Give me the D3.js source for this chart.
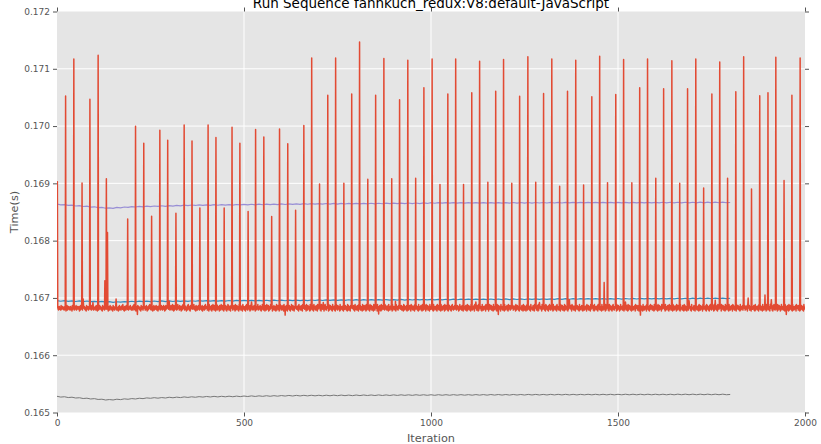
<!DOCTYPE html>
<html>
<head>
<meta charset="utf-8">
<script src="https://cdn.jsdelivr.net/npm/d3@7"></script>
<style>
  html, body { margin: 0; padding: 0; background: #ffffff; }
  svg { display: block; font-family: "DejaVu Sans", sans-serif; }
</style>
</head>
<body>
<svg id="chart" width="821" height="444"></svg>
<script>
// ---------------- DATA ----------------
const title = "Run Sequence fannkuch_redux:V8:default-JavaScript";
const xLabel = "Iteration";
const yLabel = "Time(s)";
const xTicks = [0, 500, 1000, 1500, 2000];
const yTicks = [0.165, 0.166, 0.167, 0.168, 0.169, 0.170, 0.171, 0.172];

// Red series, baseline noise: one digit per iteration (0..1999),
// value = redBaseOrigin + digit * redBaseUnit
const redBaseDigits = [
  "5464357465 3846574563 5746254836 5745637465 2847563746 5836475647 2638475637 4857463528 4756374856 4738465736",
  "4657384625 7364857463 5284657364 8574635274 6385746352 8476354768 3546273845 6375849635 2746385746 5364758463",
  "6473859463 5274638576 4635284756 3748563748 5263748596 4738562748 3657486357 2648573648 5736485726 3847563847",
  "5637485639 4728364758 3649576384 5726384957 6384752638 4957362845 7364859463 7285637485 6394756382 4756384957",
  "5738462947 5638274956 3847265938 4756284739 5648372946 5837264958 3746285947 3658472936 4857362948 5736482957",
  "4637285946 3758462837 5946374856 2837465937 4658372649 5837462857 3946582736 4958372645 8365724936 5847263958",
  "6374852937 4658372946 5837264957 3846275938 4657382946 5738462957 3648572946 3857462938 5746382957 4638572946",
  "5847362958 4736285947 3658472936 5847362957 4638275946 3857462937 5746382946 4857362958 3746285937 5648372946",
  "4738562947 5836472958 3748562937 4658372946 5837462958 3746582947 4658372936 5847263958 4736582947 3658472936",
  "5746382957 4638572946 5837462938 4756382947 3658472958 4736582946 5847362937 4658372958 3746582946 5837462947",
  "4658372936 5746382958 4837562947 3658472936 5847362958 4736285947 3658472936 5847263957 4638572946 5738462938",
  "4857362947 3746582958 5638472936 4857362947 3746582958 4637285946 5837462937 4658372958 3847562946 5736482937",
  "4658372946 5837462958 3746582937 4857362946 5638472958 3746285937 4857362946 5638472958 4736582937 3857462946",
  "5746382958 4637285947 3858472936 5746382957 4638572946 5837462938 4756382947 3658472958 4736582946 5847362937",
  "4658372958 3746582946 5837462947 4658372936 5746382958 4837562947 3658472936 5847362958 4736285947 3658472936",
  "5847263957 4638572946 5738462938 4857362947 3746582958 5638472936 4857362947 3746582958 4637285946 5837462937",
  "4658372958 3847562946 5736482937 4658372946 5837462958 3746582937 4857362946 5638472958 3746285937 4857362946",
  "5638472958 4736582937 3857462946 5746382958 4637285947 3858472936 5746382957 4638572946 5837462938 4756382947",
  "3658472958 4736582946 5847362937 4658372958 3746582946 5837462947 4658372936 5746382958 4837562947 3658472936",
  "5847362958 4736285947 3658472936 5847263957 4638572946 5738462938 4857362947 3746582958 5638472936 4857362947"
];
const redBaseOrigin = 0.16674;
const redBaseUnit = 0.000016;

// Red series, spikes and excursions: [iteration, time]
const redSpikes = [
  [0, 0.16855], [1, 0.16903], [23, 0.170525], [45, 0.171171], [67, 0.169007], [70, 0.16698],
  [88, 0.170468], [110, 0.171235], [128, 0.16730], [132, 0.169082], [135, 0.16814], [158, 0.16698],
  [189, 0.168379], [210, 0.169997], [232, 0.16970], [253, 0.168426], [275, 0.169927], [296, 0.169752],
  [318, 0.16848], [340, 0.17002], [361, 0.16974], [382, 0.16857], [404, 0.17002], [425, 0.16980],
  [447, 0.16857], [468, 0.16998], [489, 0.16970], [511, 0.16851], [531, 0.16994], [553, 0.16981],
  [574, 0.16842], [595, 0.16995], [617, 0.16969], [638, 0.16853], [660, 0.17001], [681, 0.171188],
  [702, 0.16899], [724, 0.17054], [745, 0.17119], [767, 0.16900], [788, 0.17056], [809, 0.171468],
  [831, 0.16907], [852, 0.17054], [874, 0.17118], [895, 0.16908], [916, 0.17046], [938, 0.17115],
  [959, 0.16909], [981, 0.17067], [1003, 0.17117], [1024, 0.16898], [1045, 0.17056], [1066, 0.17117],
  [1087, 0.16898], [1109, 0.17058], [1130, 0.17113], [1152, 0.16902], [1173, 0.17061], [1194, 0.17116],
  [1216, 0.16900], [1237, 0.17052], [1259, 0.17121], [1280, 0.16902], [1301, 0.17057], [1323, 0.17117],
  [1344, 0.16895], [1365, 0.17061], [1387, 0.17115], [1408, 0.16897], [1430, 0.17051], [1451, 0.17122],
  [1463, 0.16727], [1472, 0.16901], [1494, 0.17055], [1515, 0.17116], [1537, 0.16901], [1558, 0.17067],
  [1579, 0.17117], [1601, 0.16909], [1622, 0.17065], [1644, 0.17114], [1665, 0.16900], [1686, 0.17065],
  [1708, 0.17117], [1729, 0.16892], [1751, 0.17056], [1772, 0.17112], [1793, 0.16909], [1815, 0.17060],
  [1836, 0.17121], [1848, 0.16700], [1857, 0.16890], [1879, 0.17053], [1893, 0.16705], [1901, 0.17058],
  [1922, 0.17120], [1944, 0.16905], [1965, 0.17054], [1987, 0.17119],
  [96, 0.16692], [300, 0.16694], [520, 0.16693], [712, 0.16692], [905, 0.16694], [1120, 0.16693],
  [1290, 0.16692], [1370, 0.16697], [1520, 0.16693], [1690, 0.16695], [1760, 0.16696], [1910, 0.16697],
  [215, 0.16671], [610, 0.16670], [860, 0.16672], [1180, 0.16671], [1560, 0.16670], [1950, 0.16671]
];

// Summary lines, sampled every 10 iterations from 0 to 1800, in units of 1e-6 s above an origin
const summaryStep = 10;
const blueOrigin = 0.166900;
const blueValues = [
  54,42,52,40,50,38,48,37,46,35, 41,30,38,26,34,24,33,27,37,30,
  42,32,44,34,45,35,46,36,47,37, 48,38,49,40,50,41,51,42,52,43,
  52,43,53,44,54,45,55,46,56,47, 57,47,58,48,58,49,59,50,60,51,
  61,51,62,52,62,53,63,54,64,55, 65,55,65,56,66,57,67,58,68,59,
  69,59,69,60,70,61,71,61,72,62, 72,63,73,63,74,64,74,65,75,66,
  76,66,76,67,77,67,78,68,78,69, 79,69,79,70,80,70,81,71,81,72,
  82,72,82,73,83,73,83,74,84,74, 84,75,85,75,86,76,86,77,87,77,
  87,78,88,78,88,79,89,79,89,80, 90,80,90,81,91,81,91,82,92,82,
  92,83,93,83,93,84,94,84,94,85, 95,85,95,86,96,86,96,87,97,87,
  94
];
const purpleOrigin = 0.168500;
const purpleValues = [
  140,125,130,115,120,105,111,96,101,86, 91,76,81,66,71,65,79,73,87,81,
  95,87,98,90,102,93,105,97,109,100, 112,104,116,107,119,111,122,114,125,116,
  126,117,127,118,128,119,129,120,131,123, 134,124,135,126,136,127,137,128,139,130,
  141,131,142,133,143,134,145,135,146,136, 147,137,148,138,149,139,149,140,150,141,
  151,141,152,142,153,143,153,144,154,145, 155,145,156,146,157,147,157,148,158,149,
  163,153,163,154,164,155,165,155,165,155, 165,155,165,155,165,155,165,155,165,155,
  165,156,166,156,166,156,166,156,166,157, 166,157,167,157,167,157,167,158,167,158,
  167,158,168,158,168,158,168,159,168,159, 168,159,169,159,169,159,169,160,169,160,
  169,160,170,160,170,160,170,161,170,161, 170,161,171,161,171,161,171,162,171,162,
  166
];
const grayOrigin = 0.165200;
const grayValues = [
  83,69,75,61,67,53,58,44,50,36, 42,28,32,18,26,19,32,25,38,31,
  43,36,49,42,55,48,59,50,61,53, 66,57,68,60,72,63,74,66,77,69,
  80,71,82,72,83,74,85,75,86,77, 88,79,90,80,91,82,93,83,94,85,
  96,87,98,88,99,89,100,90,101,91, 101,91,102,92,103,93,104,94,104,94,
  105,95,106,96,106,96,107,97,107,97, 108,98,109,99,109,99,110,100,110,100,
  110,100,111,101,111,101,112,102,112,102, 112,102,113,103,113,103,114,104,114,104,
  114,104,115,105,115,105,116,106,116,106, 116,106,117,107,117,107,117,107,117,107,
  117,108,118,108,118,108,118,108,118,108, 118,109,119,109,119,109,119,109,119,109,
  119,109,119,109,119,109,120,110,120,110, 120,110,120,110,120,110,120,110,120,110,
  115
];

// ---------------- BUILD SERIES ----------------
const digitStr = redBaseDigits.join("").replace(/\s+/g, "");
const spikeMap = new Map(redSpikes.map(d => [d[0], d[1]]));
const redSeries = Array.from(digitStr, (ch, i) => [i, spikeMap.has(i) ? spikeMap.get(i) : redBaseOrigin + (+ch) * redBaseUnit]);
const toSeries = (vals, origin) => vals.map((v, i) => [i * summaryStep, origin + v * 1e-6]);
const blueSeries = toSeries(blueValues, blueOrigin);
const purpleSeries = toSeries(purpleValues, purpleOrigin);
const graySeries = toSeries(grayValues, grayOrigin);

// ---------------- DRAW ----------------
const pL = 57, pR = 805, pT = 11.5, pB = 412.5;
const svg = d3.select("#chart");

const x = d3.scaleLinear().domain([0, 2000]).range([pL, pR]);
const y = d3.scaleLinear().domain([0.165, 0.172]).range([pB, pT]);

// background
svg.append("rect").attr("x", pL).attr("y", pT)
  .attr("width", pR - pL).attr("height", pB - pT).attr("fill", "#E5E5E5");

// grid
const grid = svg.append("g");
grid.selectAll("line.gx").data(xTicks.slice(1, -1)).enter().append("line")
  .attr("x1", d => x(d)).attr("x2", d => x(d))
  .attr("y1", pT).attr("y2", pB).attr("stroke", "#ffffff").attr("stroke-width", 1);
grid.selectAll("line.gy").data(yTicks.slice(1, -1)).enter().append("line")
  .attr("y1", d => y(d)).attr("y2", d => y(d))
  .attr("x1", pL).attr("x2", pR).attr("stroke", "#ffffff").attr("stroke-width", 1);

// lines
svg.append("clipPath").attr("id", "plotclip").append("rect")
  .attr("x", pL).attr("y", pT).attr("width", pR - pL).attr("height", pB - pT);
const plot = svg.append("g").attr("clip-path", "url(#plotclip)");
const line = d3.line().x(d => x(d[0])).y(d => y(d[1]));

plot.append("path").datum(graySeries).attr("d", line)
  .attr("fill", "none").attr("stroke", "#777777").attr("stroke-width", 1);
plot.append("path").datum(purpleSeries).attr("d", line)
  .attr("fill", "none").attr("stroke", "#988ED5").attr("stroke-width", 1.2);
plot.append("path").datum(blueSeries).attr("d", line)
  .attr("fill", "none").attr("stroke", "#348ABD").attr("stroke-width", 1.2);
plot.append("path").datum(redSeries).attr("d", line)
  .attr("fill", "none").attr("stroke", "#E24A33").attr("stroke-width", 1.5)
  .attr("stroke-linejoin", "round");

// axes
const tickColor = "#555555";
function styleAxis(g) {
  g.select(".domain").remove();
  g.selectAll(".tick line").attr("stroke", tickColor);
  g.selectAll(".tick text").attr("fill", tickColor).attr("font-size", "9px")
    .attr("font-family", "DejaVu Sans, sans-serif");
}
svg.append("g").attr("transform", `translate(0,${pB})`)
  .call(d3.axisBottom(x).tickValues(xTicks).tickFormat(d3.format("d")).tickSizeInner(4).tickSizeOuter(0).tickPadding(3))
  .call(styleAxis);
svg.append("g").attr("transform", `translate(0,${pT})`)
  .call(d3.axisTop(x).tickValues(xTicks).tickFormat("").tickSizeInner(4).tickSizeOuter(0))
  .call(styleAxis);
svg.append("g").attr("transform", `translate(${pL},0)`)
  .call(d3.axisLeft(y).tickValues(yTicks).tickFormat(d3.format(".3f")).tickSizeInner(4).tickSizeOuter(0).tickPadding(3))
  .call(styleAxis);
svg.append("g").attr("transform", `translate(${pR},0)`)
  .call(d3.axisRight(y).tickValues(yTicks).tickFormat("").tickSizeInner(4).tickSizeOuter(0))
  .call(styleAxis);

// labels (title is clipped at the top edge, as in the reference)
svg.append("text").attr("x", (pL + pR) / 2).attr("y", 7.5)
  .attr("text-anchor", "middle").attr("font-size", "13.5px").attr("fill", "#000000").text(title);
svg.append("text").attr("x", (pL + pR) / 2).attr("y", 441.5)
  .attr("text-anchor", "middle").attr("font-size", "11.3px").attr("fill", tickColor).text(xLabel);
svg.append("text").attr("transform", `translate(18,${(pT + pB) / 2}) rotate(-90)`)
  .attr("text-anchor", "middle").attr("font-size", "11.3px").attr("fill", tickColor).text(yLabel);
</script>
</body>
</html>
